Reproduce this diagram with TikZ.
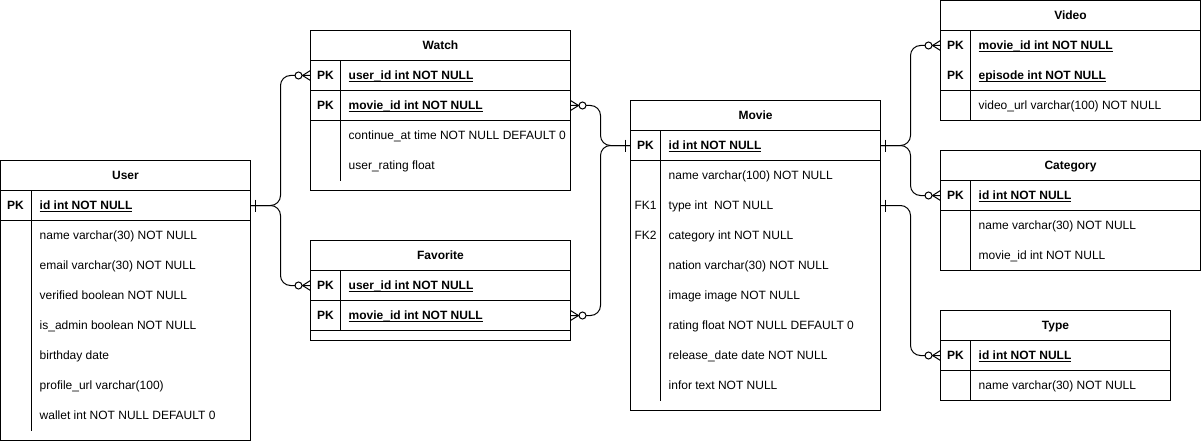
\documentclass[tikz,border=0pt]{standalone}
\usepackage{fontspec}
\setmainfont{Liberation Sans}
\newcommand{\pkul}[1]{\setbox0\hbox{#1}\rlap{\vrule height -1.6pt depth 2.6pt width \wd0}\box0}
\begin{document}
\begin{tikzpicture}[x=1pt,y=-1pt,
  every node/.style={font=\fontsize{12}{14}\selectfont},
  tbl/.style={draw, line width=1pt, anchor=north west, inner sep=0, outer sep=0},
  row/.style={anchor=north west, inner sep=0, outer sep=0, minimum height=30pt},
  ttl/.style={anchor=base, inner sep=0, yshift=-4.3pt, font=\fontsize{12}{14}\selectfont\bfseries},
  keyl/.style={anchor=base, inner sep=0, yshift=-4.3pt},
  pkl/.style={keyl, font=\fontsize{12}{14}\selectfont\bfseries},
  fld/.style={anchor=base west, inner sep=0, yshift=-4.3pt},
  pkf/.style={fld, font=\fontsize{12}{14}\selectfont\bfseries},
  ln/.style={line width=1pt},
  conn/.style={line width=1pt, rounded corners=10pt},
  oneE/.pic={\draw[line width=1pt] (5,-6) -- (5,6);},
  oneW/.pic={\draw[line width=1pt] (-5,-6) -- (-5,6);},
  zmanyW/.pic={\draw[line width=1pt] (0,-5) -- (-8,0) -- (0,5);
               \draw[line width=1pt, fill=white] (-12,0) circle[radius=3.5pt];},
  zmanyE/.pic={\draw[line width=1pt] (0,-5) -- (8,0) -- (0,5);
               \draw[line width=1pt, fill=white] (12,0) circle[radius=3.5pt];}
]
\useasboundingbox[fill=white] (-0.5,-0.5) rectangle (1200.5,440.5);

% ---------- User ----------
\node[tbl, minimum width=250pt, minimum height=280pt] (user) at (0,160) {};
\node[ttl] (user-t) at (125,175) {User};
\draw[ln] (0,190) -- (250,190);
\draw[ln] (0,220) -- (250,220);
\draw[ln] (31,190) -- (31,430);
\node[row, minimum width=250pt] (user-pk) at (0,190) {};
\node[pkl] (u0k) at (15,205) {PK};
\node[pkf] (u0) at (39,205) {\pkul{id int NOT NULL}};
\node[fld] (u1) at (39,235) {name varchar(30) NOT NULL};
\node[fld] (u2) at (39,265) {email varchar(30) NOT NULL};
\node[fld] (u3) at (39,295) {verified boolean NOT NULL};
\node[fld] (u4) at (39,325) {is\_admin boolean NOT NULL};
\node[fld] (u5) at (39,355) {birthday date};
\node[fld] (u6) at (39,385) {profile\_url varchar(100)};
\node[fld] (u7) at (39,415) {wallet int NOT NULL DEFAULT 0};

% ---------- Watch ----------
\node[tbl, minimum width=260pt, minimum height=160pt] (watch) at (310,30) {};
\node[ttl] (watch-t) at (440,45) {Watch};
\draw[ln] (310,60) -- (570,60);
\draw[ln] (310,90) -- (570,90);
\draw[ln] (310,120) -- (570,120);
\draw[ln] (340,60) -- (340,180);
\node[row, minimum width=260pt] (watch-uid) at (310,60) {};
\node[row, minimum width=260pt] (watch-mid) at (310,90) {};
\node[pkl] (w0k) at (325,75) {PK};
\node[pkf] (w0) at (348,75) {\pkul{user\_id int NOT NULL}};
\node[pkl] (w1k) at (325,105) {PK};
\node[pkf] (w1) at (348,105) {\pkul{movie\_id int NOT NULL}};
\node[fld] (w2) at (348,135) {continue\_at time NOT NULL DEFAULT 0};
\node[fld] (w3) at (348,165) {user\_rating float};

% ---------- Favorite ----------
\node[tbl, minimum width=260pt, minimum height=100pt] (fav) at (310,240) {};
\node[ttl] (fav-t) at (440,255) {Favorite};
\draw[ln] (310,270) -- (570,270);
\draw[ln] (310,300) -- (570,300);
\draw[ln] (310,330) -- (570,330);
\draw[ln] (340,270) -- (340,330);
\node[row, minimum width=260pt] (fav-uid) at (310,270) {};
\node[row, minimum width=260pt] (fav-mid) at (310,300) {};
\node[pkl] (f0k) at (325,285) {PK};
\node[pkf] (f0) at (348,285) {\pkul{user\_id int NOT NULL}};
\node[pkl] (f1k) at (325,315) {PK};
\node[pkf] (f1) at (348,315) {\pkul{movie\_id int NOT NULL}};

% ---------- Movie ----------
\node[tbl, minimum width=250pt, minimum height=310pt] (movie) at (630,100) {};
\node[ttl] (movie-t) at (755,115) {Movie};
\draw[ln] (630,130) -- (880,130);
\draw[ln] (630,160) -- (880,160);
\draw[ln] (660,130) -- (660,400);
\node[row, minimum width=250pt] (movie-pk) at (630,130) {};
\node[row, minimum width=250pt] (movie-type) at (630,190) {};
\node[pkl] (m0k) at (645,145) {PK};
\node[pkf] (m0) at (668,145) {\pkul{id int NOT NULL}};
\node[fld] (m1) at (668,175) {name varchar(100) NOT NULL};
\node[keyl] (m2k) at (645,205) {FK1};
\node[fld] (m2) at (668,205) {type int~ NOT NULL};
\node[keyl] (m3k) at (645,235) {FK2};
\node[fld] (m3) at (668,235) {category int NOT NULL};
\node[fld] (m4) at (668,265) {nation varchar(30) NOT NULL};
\node[fld] (m5) at (668,295) {image image NOT NULL};
\node[fld] (m6) at (668,325) {rating float NOT NULL DEFAULT 0};
\node[fld] (m7) at (668,355) {release\_date date NOT NULL};
\node[fld] (m8) at (668,385) {infor text NOT NULL};

% ---------- Video ----------
\node[tbl, minimum width=260pt, minimum height=120pt] (video) at (940,0) {};
\node[ttl] (video-t) at (1070,15) {Video};
\draw[ln] (940,30) -- (1200,30);
\draw[ln] (940,90) -- (1200,90);
\draw[ln] (970,30) -- (970,120);
\node[row, minimum width=260pt] (video-mid) at (940,30) {};
\node[pkl] (v0k) at (955,45) {PK};
\node[pkf] (v0) at (978,45) {\pkul{movie\_id int NOT NULL}};
\node[pkl] (v1k) at (955,75) {PK};
\node[pkf] (v1) at (978,75) {\pkul{episode int NOT NULL}};
\node[fld] (v2) at (978,105) {video\_url varchar(100) NOT NULL};

% ---------- Category ----------
\node[tbl, minimum width=260pt, minimum height=120pt] (cat) at (940,150) {};
\node[ttl] (cat-t) at (1070,165) {Category};
\draw[ln] (940,180) -- (1200,180);
\draw[ln] (940,210) -- (1200,210);
\draw[ln] (970,180) -- (970,270);
\node[row, minimum width=260pt] (cat-pk) at (940,180) {};
\node[pkl] (c0k) at (955,195) {PK};
\node[pkf] (c0) at (978,195) {\pkul{id int NOT NULL}};
\node[fld] (c1) at (978,225) {name varchar(30) NOT NULL};
\node[fld] (c2) at (978,255) {movie\_id int NOT NULL};

% ---------- Type ----------
\node[tbl, minimum width=230pt, minimum height=90pt] (type) at (940,310) {};
\node[ttl] (type-t) at (1055,325) {Type};
\draw[ln] (940,340) -- (1170,340);
\draw[ln] (940,370) -- (1170,370);
\draw[ln] (970,340) -- (970,400);
\node[row, minimum width=230pt] (type-pk) at (940,340) {};
\node[pkl] (t0k) at (955,355) {PK};
\node[pkf] (t0) at (978,355) {\pkul{id int NOT NULL}};
\node[fld] (t1) at (978,385) {name varchar(30) NOT NULL};

% ---------- Connectors ----------
\draw[conn] (user-pk.east) -- ++(30,0) |- (watch-uid.west);
\draw[conn] (user-pk.east) -- ++(30,0) |- (fav-uid.west);
\draw[conn] (watch-mid.east) -- ++(30,0) |- (movie-pk.west);
\draw[conn] (fav-mid.east) -- ++(30,0) |- (movie-pk.west);
\draw[conn] (movie-pk.east) -- ++(30,0) |- (video-mid.west);
\draw[conn] (movie-pk.east) -- ++(30,0) |- (cat-pk.west);
\draw[conn] (movie-type.east) -- ++(30,0) |- (type-pk.west);

\pic at (user-pk.east) {oneE};
\pic at (watch-uid.west) {zmanyW};
\pic at (fav-uid.west) {zmanyW};
\pic at (watch-mid.east) {zmanyE};
\pic at (fav-mid.east) {zmanyE};
\pic at (movie-pk.west) {oneW};
\pic at (movie-pk.east) {oneE};
\pic at (video-mid.west) {zmanyW};
\pic at (cat-pk.west) {zmanyW};
\pic at (movie-type.east) {oneE};
\pic at (type-pk.west) {zmanyW};
\end{tikzpicture}
\end{document}
